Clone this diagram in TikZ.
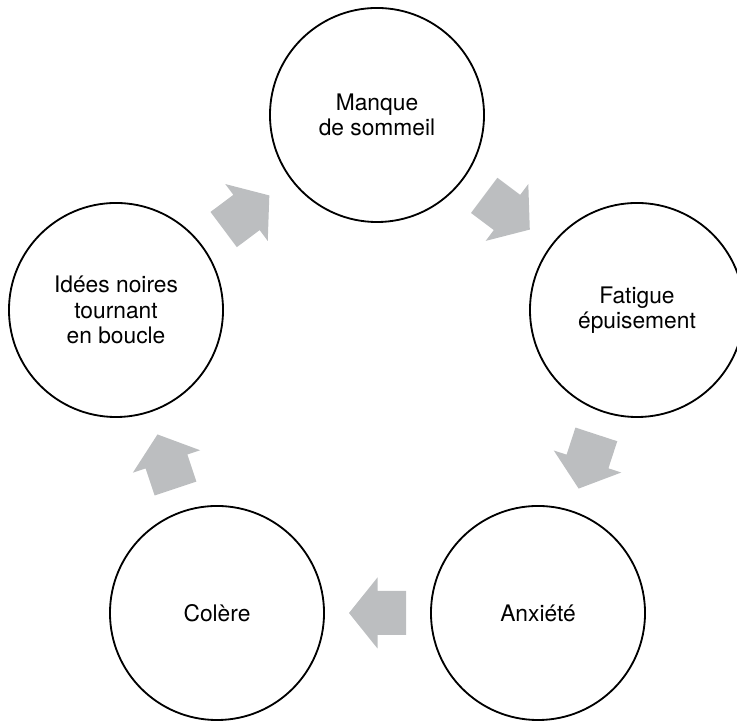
\documentclass[tikz,border=0pt]{standalone}
\usepackage{fontspec}
\setmainfont{TeX Gyre Heros}
\usepackage{tikz}
\usetikzlibrary{calc}
\definecolor{flechegris}{RGB}{188,190,192}
\tikzset{
    etat/.style={circle, draw, line width=1.3pt, minimum size=5.35cm, inner sep=0pt,
        align=center, font=\fontsize{16.2}{18}\selectfont},
    fleche/.pic={\fill[flechegris] (-28.5,-22) -- (0,-22) -- (0,-35.5) -- (28.5,0)
        -- (0,35.5) -- (0,22) -- (-28.5,22) -- cycle;}
}

\begin{document}
\begin{tikzpicture}[x=0.025cm, y=0.025cm]
        \useasboundingbox (0,0) rectangle (737,721);
        \node [etat] (manque) at (377,606) {Manque\\de sommeil};
        \node [etat] (fatigue) at (637,411) {Fatigue\\épuisement};
        \node [etat] (anxiete) at (538,108) {Anxiété};
        \node [etat] (colere) at (217,108) {Colère};
        \node [etat] (idees) at (116,411) {Idées noires\\tournant\\en boucle};
        \foreach \a/\b in {idees/manque, manque/fatigue, fatigue/anxiete, anxiete/colere, colere/idees}
            \path let \p1 = ($(\b)-(\a)$), \n1 = {atan2(\y1,\x1)} in
                ($(\a)!0.5!(\b)$) pic [rotate=\n1] {fleche};
    \end{tikzpicture}
\end{document}
